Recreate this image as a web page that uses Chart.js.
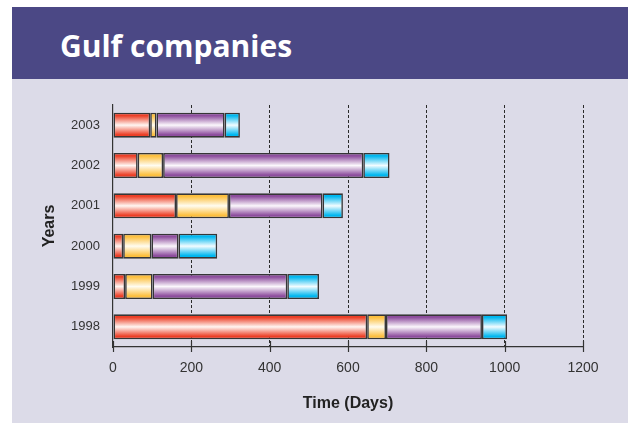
<!DOCTYPE html>
<html>
<head>
<meta charset="utf-8">
<script src="https://cdn.jsdelivr.net/npm/chart.js@4.4.1/dist/chart.umd.min.js"></script>
<style>
  html, body { margin: 0; padding: 0; background: #ffffff; width: 628px; height: 423px; overflow: hidden; }
  #header { position: absolute; left: 12px; top: 7px; width: 616px; height: 72px; background: #4b4885; }
  #header span { position: absolute; left: 48px; top: 19px; font-family: "Open Sans", sans-serif; font-weight: 700; font-size: 30px; line-height: 40px; color: #ffffff; }
  #panel { position: absolute; left: 12px; top: 79px; width: 616px; height: 344px; background: #dcdbe8; }
  #c { position: absolute; left: 0; top: 0; }
</style>
</head>
<body>
<div id="header"><span>Gulf companies</span></div>
<div id="panel"></div>
<canvas id="c" width="628" height="423"></canvas>
<script>
const years = ['2003', '2002', '2001', '2000', '1999', '1998'];
const phase1 = [95, 63, 161, 26, 31, 649];
const phase2 = [16, 65, 135, 72, 70, 48];
const phase3 = [174, 511, 239, 69, 344, 245];
const phase4 = [39, 67, 52, 99, 81, 64];
const xTicks = [0, 200, 400, 600, 800, 1000, 1200];

const BAR_PCT = 0.62;
function grad(edge, mid) {
  return (ctx) => {
    const chart = ctx.chart;
    const ys = chart.scales && chart.scales.y;
    if (!ys || ctx.dataIndex === undefined || !chart.chartArea) return edge;
    const c = ys.getPixelForValue(ctx.dataIndex);
    const h = (ys.height / years.length) * BAR_PCT / 2;
    const g = chart.ctx.createLinearGradient(0, c - h, 0, c + h);
    g.addColorStop(0, edge);
    g.addColorStop(0.12, edge);
    g.addColorStop(0.5, mid);
    g.addColorStop(0.88, edge);
    g.addColorStop(1, edge);
    return g;
  };
}

const crossTicks = {
  id: 'crossTicks',
  afterDraw(chart) {
    const xs = chart.scales.x, ys = chart.scales.y;
    const c = chart.ctx;
    c.save();
    c.strokeStyle = '#333333';
    c.lineWidth = 1.2;
    xTicks.forEach(v => {
      const px = Math.round(xs.getPixelForValue(v)) + 0.5;
      c.beginPath();
      c.moveTo(px, ys.bottom - 6);
      c.lineTo(px, ys.bottom + 5);
      c.stroke();
    });
    c.restore();
  }
};

const mk = (label, data, edge, mid) => ({
  label, data,
  backgroundColor: grad(edge, mid),
  borderColor: '#363636',
  borderWidth: 1.6,
  borderSkipped: false,
  barPercentage: BAR_PCT,
  categoryPercentage: 1.0
});

new Chart(document.getElementById('c'), {
  type: 'bar',
  data: {
    labels: years,
    datasets: [
      mk('Phase 1', phase1, '#ec3f26', '#fff6f2'),
      mk('Phase 2', phase2, '#fcbf3e', '#fffcf0'),
      mk('Phase 3', phase3, '#8d4d9d', '#fbf7fc'),
      mk('Phase 4', phase4, '#00b7ef', '#f2fcff')
    ]
  },
  options: {
    indexAxis: 'y',
    responsive: false,
    animation: false,
    devicePixelRatio: 1,
    layout: { padding: { left: 30, top: 105, right: 45, bottom: 0 } },
    plugins: { legend: { display: false }, tooltip: { enabled: false }, title: { display: false } },
    scales: {
      x: {
        stacked: true,
        min: 0, max: 1200,
        afterBuildTicks: (s) => { s.ticks = xTicks.map(v => ({ value: v })); },
        afterFit: (s) => { s.height = 76; },
        ticks: {
          padding: 13, color: '#333333', maxRotation: 0,
          font: { family: 'Liberation Sans, Arial, sans-serif', size: 14 },
          callback: (v) => String(v)
        },
        grid: {
          drawTicks: false,
          lineWidth: 1,
          color: (ctx) => (ctx.index === 0 ? 'rgba(0,0,0,0)' : '#2a2a2a')
        },
        border: { display: true, color: '#333333', width: 1.2, dash: [3, 2] },
        title: {
          display: true, text: 'Time (Days)', color: '#222222',
          font: { family: 'Liberation Sans, Arial, sans-serif', size: 16, weight: 'bold' },
          padding: { top: 0, bottom: 10 }
        }
      },
      y: {
        stacked: true,
        afterFit: (s) => { s.width = 83; },
        ticks: { padding: 13, color: '#333333', font: { family: 'Liberation Sans, Arial, sans-serif', size: 13 } },
        grid: { display: false, drawTicks: false },
        border: { display: true, color: '#333333', width: 1.2 },
        title: {
          display: true, text: 'Years', color: '#222222',
          font: { family: 'Liberation Sans, Arial, sans-serif', size: 16, weight: 'bold' },
          padding: { top: 10, bottom: 0 }
        }
      }
    }
  },
  plugins: [crossTicks]
});
</script>
</body>
</html>
